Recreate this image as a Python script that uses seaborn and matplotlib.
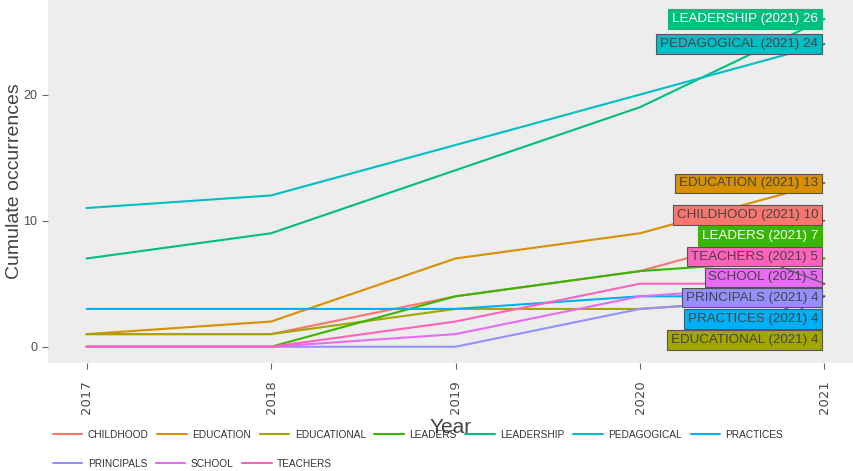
import pandas as pd
import matplotlib
matplotlib.use("Agg")
import matplotlib.pyplot as plt
import seaborn as sns

years = [2017, 2018, 2019, 2020, 2021]
terms = ["CHILDHOOD", "EDUCATION", "EDUCATIONAL", "LEADERS", "LEADERSHIP",
         "PEDAGOGICAL", "PRACTICES", "PRINCIPALS", "SCHOOL", "TEACHERS"]

childhood = [1, 1, 4, 6, 10]
education = [1, 2, 7, 9, 13]
educational = [1, 1, 3, 3, 4]
leaders = [0, 0, 4, 6, 7]
leadership = [7, 9, 14, 19, 26]
pedagogical = [11, 12, 16, 20, 24]
practices = [3, 3, 3, 4, 4]
principals = [0, 0, 0, 3, 4]
school = [0, 0, 1, 4, 5]
teachers = [0, 0, 2, 5, 5]

series = [childhood, education, educational, leaders, leadership,
          pedagogical, practices, principals, school, teachers]

colors = ["#F8766D", "#D89000", "#A3A500", "#39B600", "#00BF7D",
          "#00BFC4", "#00B0F6", "#9590FF", "#E76BF3", "#FF62BC"]

# where the end labels sit (layout only), and their text colours
label_y = [10.45, 12.95, 0.55, 8.8, 26.0, 24.0, 2.2, 3.9, 5.5, 7.15]
label_text_color = ["#444444", "#444444", "#444444", "white", "white",
                    "#444444", "#444444", "#444444", "#444444", "#444444"]

# Build long table
rows = []
for term, vals in zip(terms, series):
    for y, v in zip(years, vals):
        rows.append({"Year": y, "term": term, "value": v})
df = pd.DataFrame(rows)

sns.set_style("white")
plt.rcParams["font.family"] = ["Liberation Sans", "DejaVu Sans"]

fig = plt.figure(figsize=(8.54, 4.71), dpi=100)
ax = fig.add_axes([0.056, 0.229, 0.944, 0.771])
ax.set_facecolor("#EDEDED")

sns.lineplot(data=df, x="Year", y="value", hue="term", hue_order=terms,
             palette=colors, linewidth=1.5, ax=ax, legend=False)

# End labels
for term, vals, c, ly, tc in zip(terms, series, colors, label_y, label_text_color):
    edge = c if tc == "white" else "#555555"
    ax.annotate(f"{term} (2021) {vals[-1]}",
                xy=(years[-1], vals[-1]), xytext=(years[-1] - 0.035, ly),
                ha="right", va="center", fontsize=9.6, color=tc,
                bbox=dict(boxstyle="square,pad=0.28", fc=c, ec=edge, lw=0.8),
                arrowprops=dict(arrowstyle="-", color=edge, lw=0.8,
                                shrinkA=0, shrinkB=0))

ax.set_xlim(2016.79, 2021.16)
ax.set_ylim(-1.3, 27.5)
ax.set_xticks(years)
ax.set_xticklabels([str(y) for y in years], rotation=90, family="DejaVu Sans")
ax.set_yticks([0, 10, 20])
ax.tick_params(axis="both", length=4, color="#666666", labelcolor="#4D4D4D",
               labelsize=9, bottom=True, left=True)
ax.tick_params(axis="x", labelsize=9.5, pad=8)
for s in ax.spines.values():
    s.set_visible(False)

ax.set_xlabel("Year", fontsize=15, color="#444444", labelpad=3)
ax.set_ylabel("Cumulate occurrences", fontsize=14, color="#444444")
ax.yaxis.set_label_coords(-0.031, 0.5)

# Legend: two rows, each row laid out on its own
handles = [plt.Line2D([], [], color=c, lw=1.5) for c in colors]
leg_kw = dict(loc="center left", frameon=False, fontsize=7.3,
              handlelength=2.9, handletextpad=0.55, columnspacing=0.85,
              labelcolor="#333333", borderpad=0, borderaxespad=0)
fig.legend(handles[:7], terms[:7], ncol=7,
           bbox_to_anchor=(0.062, 1 - 435 / 471), **leg_kw)
fig.legend(handles[7:], terms[7:], ncol=3,
           bbox_to_anchor=(0.062, 1 - 464 / 471), **leg_kw)

fig.savefig("out.png", dpi=100)
